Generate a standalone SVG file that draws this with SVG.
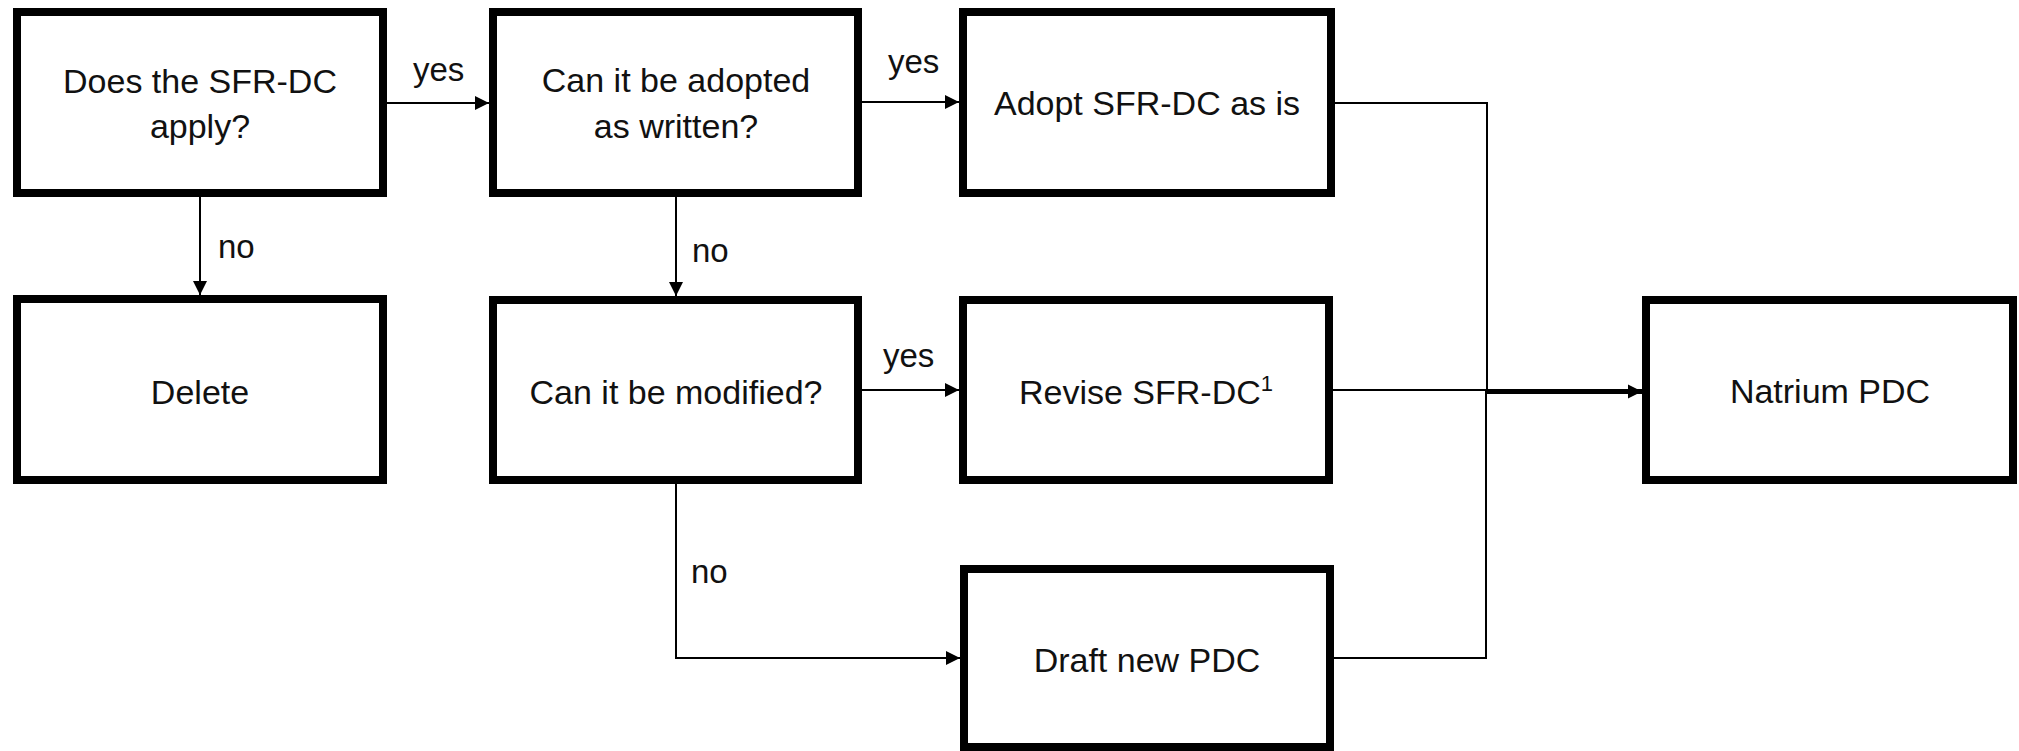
<svg xmlns="http://www.w3.org/2000/svg" width="2019" height="751" viewBox="0 0 2019 751">
  <style>
    .box { fill: #ffffff; stroke: #000000; stroke-width: 8; }
    .txt { font-family: "Liberation Sans", Arial, sans-serif; font-size: 34px; fill: #111111; text-anchor: middle; }
    .lbl { font-family: "Liberation Sans", Arial, sans-serif; font-size: 33px; fill: #111111; }
    .conn { fill: none; stroke: #000000; stroke-width: 2; }
    .thick { fill: none; stroke: #000000; stroke-width: 5; }
  </style>
  <defs>
    <marker id="arrow" markerUnits="userSpaceOnUse" markerWidth="16" markerHeight="16" refX="14" refY="7.5" orient="auto">
      <path d="M0,0.5 L14,7.5 L0,14.5 z" fill="#000000"/>
    </marker>
  </defs>
  <rect width="2019" height="751" fill="#ffffff"/>

  <g id="connectors">
    <path class="conn" d="M387 103 H489" marker-end="url(#arrow)"/>
    <path class="conn" d="M862 102 H959" marker-end="url(#arrow)"/>
    <path class="conn" d="M200 197 V295" marker-end="url(#arrow)"/>
    <path class="conn" d="M676 197 V296" marker-end="url(#arrow)"/>
    <path class="conn" d="M862 390 H959" marker-end="url(#arrow)"/>
    <path class="conn" d="M676 484 V658 H960" marker-end="url(#arrow)"/>
    <path class="conn" d="M1335 103 H1487 V391"/>
    <path class="conn" d="M1333 390 H1487"/>
    <path class="conn" d="M1334 658 H1486 V391"/>
    <path class="thick" d="M1487 391.5 H1642" marker-end="url(#arrow)"/>
    <text class="lbl" x="413" y="81">yes</text>
    <text class="lbl" x="888" y="73">yes</text>
    <text class="lbl" x="883" y="367">yes</text>
    <text class="lbl" x="218" y="258">no</text>
    <text class="lbl" x="692" y="262">no</text>
    <text class="lbl" x="691" y="583">no</text>
  </g>

  <g id="node-apply">
    <rect class="box" x="17" y="12" width="366" height="181"/>
    <text class="txt" x="200" y="93">Does the SFR-DC</text>
    <text class="txt" x="200" y="138">apply?</text>
  </g>
  <g id="node-adopted">
    <rect class="box" x="493" y="12" width="365" height="181"/>
    <text class="txt" x="676" y="92">Can it be adopted</text>
    <text class="txt" x="676" y="138">as written?</text>
  </g>
  <g id="node-adopt-as-is">
    <rect class="box" x="963" y="12" width="368" height="181"/>
    <text class="txt" x="1147" y="115">Adopt SFR-DC as is</text>
  </g>
  <g id="node-delete">
    <rect class="box" x="17" y="299" width="366" height="181"/>
    <text class="txt" x="200" y="404">Delete</text>
  </g>
  <g id="node-modified">
    <rect class="box" x="493" y="300" width="365" height="180"/>
    <text class="txt" x="676" y="404">Can it be modified?</text>
  </g>
  <g id="node-revise">
    <rect class="box" x="963" y="300" width="366" height="180"/>
    <text class="txt" x="1146" y="404">Revise SFR-DC<tspan font-size="22" dy="-13">1</tspan></text>
  </g>
  <g id="node-draft">
    <rect class="box" x="964" y="569" width="366" height="178"/>
    <text class="txt" x="1147" y="672">Draft new PDC</text>
  </g>
  <g id="node-natrium">
    <rect class="box" x="1646" y="300" width="367" height="180"/>
    <text class="txt" x="1830" y="403">Natrium PDC</text>
  </g>
</svg>
